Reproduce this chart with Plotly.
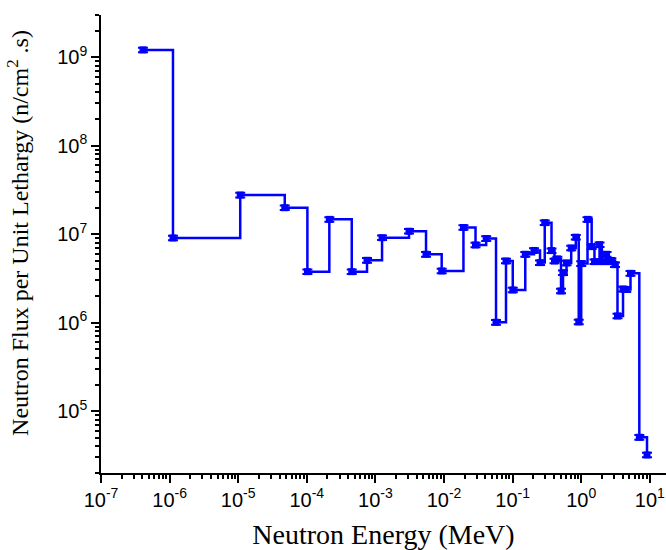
import plotly.graph_objects as go

energy_mev = [4.09e-7, 1.12e-6, 1.07e-5, 4.77e-5, 1.02e-4, 2.13e-4, 4.52e-4, 7.55e-4,
              1.25e-3, 3.09e-3, 5.47e-3, 9.25e-3, 1.92e-2, 2.88e-2, 4.12e-2, 5.73e-2,
              8.01e-2, 0.1005, 0.153, 0.205, 0.251, 0.294, 0.369, 0.408, 0.449, 0.508,
              0.543, 0.611, 0.715, 0.834, 0.92, 1.0, 1.235, 1.42, 1.56, 1.85, 2.0, 2.34,
              2.52, 2.75, 3.11, 3.38, 4.07, 4.53, 5.23, 7.03, 9.1]
flux = [1.21e9, 9.06e6, 2.77e7, 1.99e7, 3.77e6, 1.47e7, 3.77e6, 5.07e6,
        9.12e6, 1.08e7, 5.93e6, 3.84e6, 1.19e7, 7.55e6, 8.93e6, 1.01e6,
        4.98e6, 2.34e6, 5.93e6, 6.55e6, 4.77e6, 1.35e7, 6.52e6, 4.98e6, 5.25e6, 2.28e6,
        3.67e6, 4.73e6, 6.98e6, 9.25e6, 1.02e6, 4.65e6, 1.47e7, 7.23e6, 4.89e6, 7.61e6, 4.89e6, 5.93e6,
        4.89e6, 5.05e6, 4.52e6, 1.19e6, 2.40e6, 2.37e6, 3.61e6, 5.07e4, 3.2e4]
flux_err_percent = 6

x_tick_vals = [1e-7, 1e-6, 1e-5, 1e-4, 1e-3, 1e-2, 1e-1, 1e0, 1e1]
x_tick_text = ["10<sup>-7</sup>", "10<sup>-6</sup>", "10<sup>-5</sup>", "10<sup>-4</sup>",
               "10<sup>-3</sup>", "10<sup>-2</sup>", "10<sup>-1</sup>", "10<sup>0</sup>",
               "10<sup>1</sup>"]
y_tick_vals = [1e5, 1e6, 1e7, 1e8, 1e9]
y_tick_text = ["10<sup>5</sup>", "10<sup>6</sup>", "10<sup>7</sup>", "10<sup>8</sup>", "10<sup>9</sup>"]
x_title = "Neutron Energy (MeV)"
y_title = "Neutron Flux per Unit Lethargy (n/cm<sup>2</sup> .s)"

x_minor = [m * 10.0 ** k for k in range(-7, 2) for m in range(2, 10)]
y_minor = [m * 10.0 ** k for k in range(4, 10) for m in range(2, 10)]

fig = go.Figure()
fig.add_trace(go.Scatter(
    x=energy_mev, y=flux, mode="lines+markers",
    line=dict(shape="hv", color="#0000FF", width=2.5),
    marker=dict(symbol="square", size=7, color="#0000FF"),
    error_y=dict(type="percent", value=flux_err_percent, color="#0000FF",
                 thickness=2, width=5),
    showlegend=False,
))

axis_common = dict(
    showgrid=False, zeroline=False, showline=True, linecolor="black", linewidth=1.5,
    ticks="outside", ticklen=8, tickwidth=1.5, tickcolor="black",
    tickfont=dict(family="Liberation Sans", size=20, color="black"),
    tickmode="array",
)

fig.update_xaxes(
    type="log", range=[-7, 1.236],
    tickvals=x_tick_vals, ticktext=x_tick_text,
    minor=dict(tickmode="array", tickvals=x_minor, ticks="outside", ticklen=4,
               tickwidth=1.5, tickcolor="black", showgrid=False),
    title=dict(text=x_title, standoff=20,
               font=dict(family="Liberation Serif", size=28, color="black")),
    **axis_common,
)
fig.update_yaxes(
    type="log", range=[4.301, 9.477],
    tickvals=y_tick_vals, ticktext=y_tick_text,
    minor=dict(tickmode="array", tickvals=y_minor, ticks="outside", ticklen=4,
               tickwidth=1.5, tickcolor="black", showgrid=False),
    **axis_common,
)

fig.add_annotation(
    text=y_title, textangle=-90, showarrow=False,
    xref="paper", yref="paper", x=-0.147, y=0.524,
    xanchor="center", yanchor="middle",
    font=dict(family="Liberation Serif", size=24, color="black"),
)

fig.update_layout(
    width=666, height=550,
    margin=dict(l=101, r=0, t=15, b=77, autoexpand=False),
    plot_bgcolor="white", paper_bgcolor="white",
)

fig.write_html("out.html")
